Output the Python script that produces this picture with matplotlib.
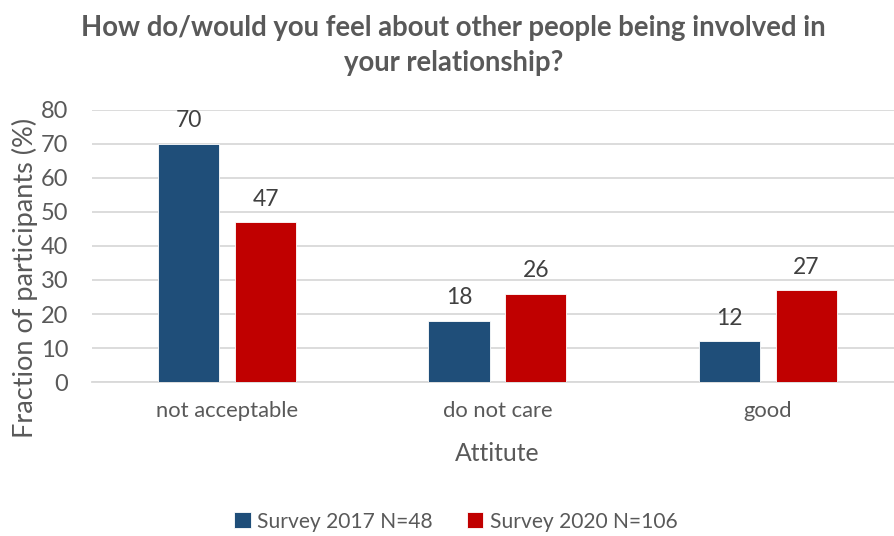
import matplotlib
matplotlib.use("Agg")
import matplotlib.pyplot as plt
import numpy as np

plt.rcParams['font.family'] = ['Lato', 'DejaVu Sans']

# survey answers, percent of participants
attitudes = ['not acceptable', 'do not care', 'good']
survey_2017 = [70, 18, 12]
survey_2020 = [47, 26, 27]
series_labels = ['Survey 2017 N=48', 'Survey 2020 N=106']
yticks = [0, 10, 20, 30, 40, 50, 60, 70, 80]

text_grey = '#595959'
blue = '#1F4E79'
red = '#C00000'

fig = plt.figure(figsize=(8.94, 5.36), dpi=100)
ax = fig.add_axes([0.1029, 0.2873, 0.907, 0.5075])

x = np.arange(len(attitudes))
w = 0.226
off = 0.142
b1 = ax.bar(x - off, survey_2017, w, color=blue, edgecolor='white', linewidth=0.6,
            label=series_labels[0], zorder=3)
b2 = ax.bar(x + off, survey_2020, w, color=red, edgecolor='white', linewidth=0.6,
            label=series_labels[1], zorder=3)

for bars, vals in ((b1, survey_2017), (b2, survey_2020)):
    for bar, v in zip(bars, vals):
        ax.annotate(f'{v}', (bar.get_x() + bar.get_width() / 2, v),
                    xytext=(0, 9), textcoords='offset points',
                    ha='center', va='bottom', fontsize=16.5, color='#404040')

ax.set_xlim(-0.5, 2.5)
ax.set_ylim(0, 80)
ax.set_yticks(yticks)
ax.set_xticks(x)
ax.set_xticklabels(attitudes)
ax.tick_params(axis='both', length=0, labelcolor=text_grey)
ax.tick_params(axis='x', pad=14, labelsize=15.8)
ax.tick_params(axis='y', pad=17, labelsize=17)
ax.grid(axis='y', color='#D9D9D9', linewidth=1.3, zorder=0)
for s in ['top', 'right', 'left']:
    ax.spines[s].set_visible(False)
ax.spines['bottom'].set_color('#D9D9D9')
ax.spines['bottom'].set_linewidth(1.3)

ax.set_xlabel('Attitute', fontsize=17.8, color=text_grey, labelpad=15)
ax.set_ylabel('Fraction of participants (%)', fontsize=19.5, color=text_grey)
ax.yaxis.set_label_coords(-0.066, 0.382)

fig.text(0.507, 0.972, 'How do/would you feel about other people being involved in\nyour relationship?',
         ha='center', va='top', fontsize=19.8, fontweight='bold', color=text_grey,
         linespacing=1.42)

fig.legend(handles=[b1, b2], loc='center', bbox_to_anchor=(0.51, 0.027), ncol=2,
           frameon=False, fontsize=15.1, labelcolor=text_grey, handlelength=0.8,
           handleheight=0.8, handletextpad=0.3, columnspacing=1.6)

fig.savefig('out.png', dpi=100)
